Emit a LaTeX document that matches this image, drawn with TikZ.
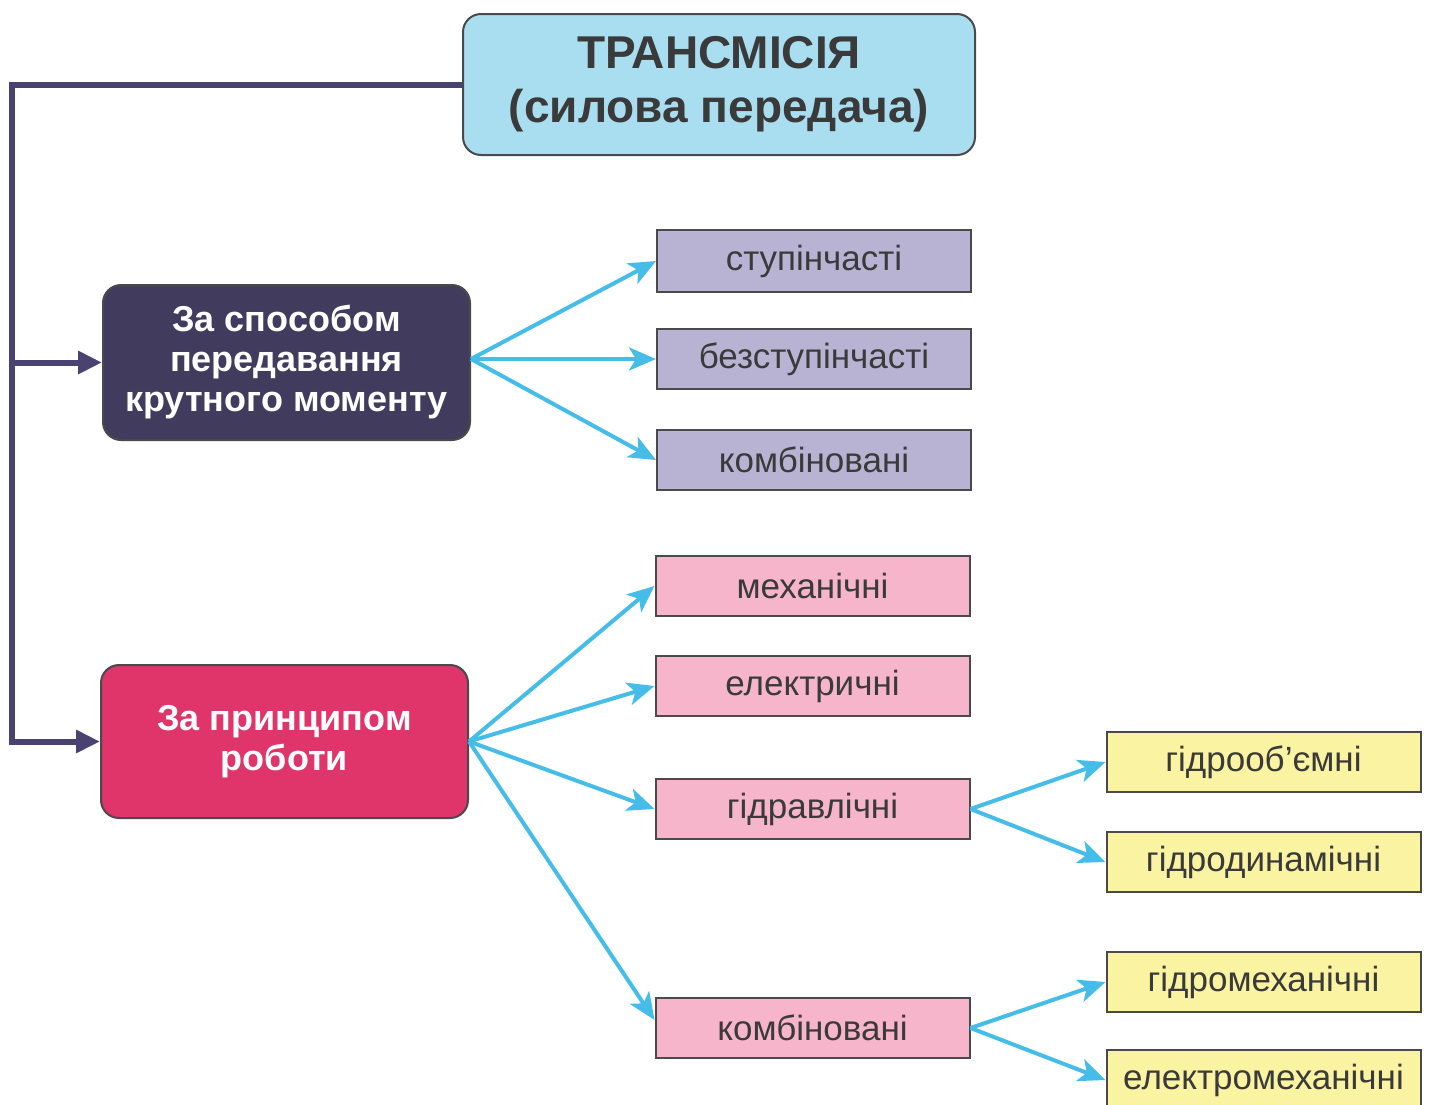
\documentclass[tikz,border=0pt]{standalone}
\usepackage{fontspec}
\setmainfont{Liberation Sans}
\usetikzlibrary{arrows.meta}
\definecolor{topfill}{HTML}{A8DEF0}
\definecolor{darkfill}{HTML}{413C5E}
\definecolor{redfill}{HTML}{E0356B}
\definecolor{lavfill}{HTML}{B9B3D3}
\definecolor{pinkfill}{HTML}{F6B5CB}
\definecolor{yelfill}{HTML}{FAF3A2}
\definecolor{cyanline}{HTML}{45BDE8}
\definecolor{connline}{HTML}{4A4270}
\definecolor{edgegray}{HTML}{4A4A4A}
\definecolor{txtgray}{HTML}{3A3A3A}
\begin{document}
\begin{tikzpicture}[x=1pt,y=-1pt,
  bigbox/.style={draw=edgegray,line width=2pt,rounded corners=18pt,align=center,inner sep=0pt},
  smallbox/.style={draw=edgegray,line width=2pt,minimum width=314pt,minimum height=60pt,inner sep=0pt,text=txtgray,font=\fontsize{35}{40}\selectfont},
  lavbox/.style={smallbox,fill=lavfill},
  pinkbox/.style={smallbox,fill=pinkfill},
  yelbox/.style={smallbox,fill=yelfill},
  cyanarrow/.style={draw=cyanline,line width=4pt,-{Stealth[length=27pt,width=23pt,inset=7pt]}},
  conn/.style={draw=connline,line width=6pt}
]
\useasboundingbox (0,0) rectangle (1430,1104);
\fill[white] (0,0) rectangle (1430,1104);

\node[bigbox,fill=topfill,minimum width=512pt,minimum height=141pt,text=txtgray,font=\bfseries\fontsize{46}{54}\selectfont] (top) at (719,84.5) {ТРАНСМІСІЯ\\(силова передача)};

\node[bigbox,fill=darkfill,minimum width=367pt,minimum height=155pt,text=white,font=\bfseries\fontsize{36}{40}\selectfont] (b1) at (286.5,362.5) {За способом\\передавання\\крутного моменту};

\node[bigbox,fill=redfill,minimum width=367pt,minimum height=153pt,text=white,font=\bfseries\fontsize{36}{40}\selectfont] (b2) at (284.5,741.5) {За принципом\\роботи};

\node[lavbox,minimum height=62pt] (s1) at (814,261) {ступінчасті};
\node[lavbox] (s2) at (814,359) {безступінчасті};
\node[lavbox] (s3) at (814,460) {комбіновані};

\node[pinkbox] (p1) at (812.5,586) {механічні};
\node[pinkbox] (p2) at (812.5,686) {електричні};
\node[pinkbox] (p3) at (812.5,809) {гідравлічні};
\node[pinkbox] (p4) at (812.5,1028) {комбіновані};

\node[yelbox] (y1) at (1263.5,762) {гідрооб'ємні};
\node[yelbox] (y2) at (1263.5,862) {гідродинамічні};
\node[yelbox] (y3) at (1263.5,982) {гідромеханічні};
\node[yelbox] (y4) at (1263.5,1080) {електромеханічні};

% main connector
\coordinate (ltop) at (12,84.5);
\coordinate (lbot) at (12,741.5);
\draw[conn,line join=miter] (top.west) -- (ltop) -- (lbot) -- (b2.west)
  [-{Triangle[length=24pt,width=22pt]}];
\draw[conn,-{Triangle[length=24pt,width=22pt]}] (ltop |- b1.west) -- (b1.west);

% cyan arrows
\coordinate (b1out) at ([yshift=3.5pt]b1.east);
\foreach \t in {s1,s2,s3} \draw[cyanarrow] (b1out) -- (\t.west);
\foreach \t in {p1,p2,p3} \draw[cyanarrow] (b2.east) -- (\t.west);
\draw[cyanarrow] (b2.east) -- ([yshift=8pt]p4.west);
\foreach \t in {y1,y2} \draw[cyanarrow] (p3.east) -- (\t.west);
\foreach \t in {y3,y4} \draw[cyanarrow] (p4.east) -- (\t.west);
\end{tikzpicture}
\end{document}
